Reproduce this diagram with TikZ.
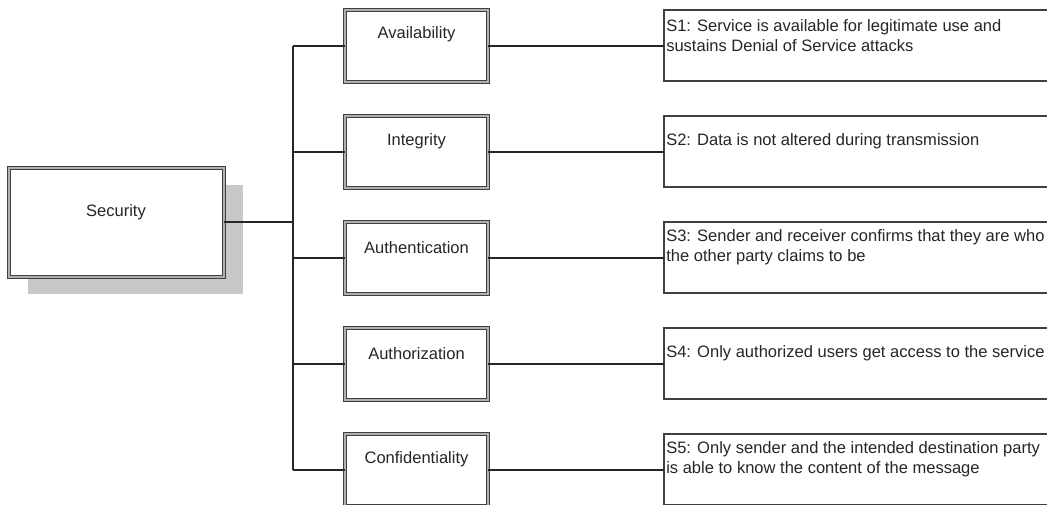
\documentclass[tikz,border=0pt]{standalone}
\usepackage{fontspec}
\setmainfont{Liberation Sans}
\usetikzlibrary{shadows}
\definecolor{edge}{HTML}{404040}
\definecolor{band}{HTML}{B0B0B0}
\definecolor{shade}{HTML}{C8C8C8}
\definecolor{ink}{HTML}{262626}
\begin{document}
\begin{tikzpicture}[x=0.75pt,y=-0.75pt,
  font=\fontsize{12.4pt}{15pt}\selectfont, text=ink,
  dblbox/.style={draw=edge, line width=0.8pt, double=band, double distance=1.9pt,
    fill=white, anchor=north west, inner sep=0pt, outer sep=0pt,
    minimum width=107.25pt, minimum height=54pt},
  rootbox/.style={dblbox, minimum width=161.25pt, minimum height=81.75pt,
    general shadow={fill=shade, draw=none, shadow xshift=14.25pt, shadow yshift=-12.75pt}},
  descbox/.style={draw=edge, line width=1.1pt, fill=white, anchor=north west,
    inner sep=0pt, outer sep=0pt, minimum width=297pt, minimum height=53.25pt},
  desctext/.style={anchor=west, align=left, inner sep=0pt},
  boxlabel/.style={anchor=center, inner sep=0pt},
  conn/.style={draw=black!85, line width=0.8pt}]
\useasboundingbox (0,0) rectangle (1047,504);
\clip (0,0) rectangle (1047,504);
\fill[white] (0,0) rectangle (1047,504);

% root
\node[rootbox] (sec) at (9,168) {};
\node[boxlabel] (secl) at (116,212) {Security};

% bus
\coordinate (bus) at (293,222);
\coordinate (bt) at (293,46);
\coordinate (bb) at (293,470);
\draw[conn, line width=1.7pt] (sec.east |- bus) -- (bus);
\draw[conn] (bt) -- (bb);

% middle boxes
\node[dblbox] (av) at (345,10) {};
\node[dblbox] (in) at (345,116) {};
\node[dblbox] (au) at (345,222) {};
\node[dblbox] (az) at (345,328) {};
\node[dblbox] (co) at (345,434) {};
\node[boxlabel] at ([yshift=-18pt]av.north) {Availability};
\node[boxlabel] at ([yshift=-19pt]in.north) {Integrity};
\node[boxlabel] at ([yshift=-19pt]au.north) {Authentication};
\node[boxlabel] at ([yshift=-19pt]az.north) {Authorization};
\node[boxlabel] at ([yshift=-19pt]co.north) {Confidentiality};

% description boxes
\node[descbox] (s1) at (664,10) {};
\node[descbox] (s2) at (664,116) {};
\node[descbox] (s3) at (664,222) {};
\node[descbox] (s4) at (664,328) {};
\node[descbox] (s5) at (664,434) {};
\node[desctext] at ([xshift=1.5pt,yshift=-19pt]s1.north west) {S1: Service is available for legitimate use and\\sustains Denial of Service attacks};
\node[desctext] at ([xshift=1.5pt,yshift=-19pt]s2.north west) {S2: Data is not altered during transmission};
\node[desctext] at ([xshift=1.5pt,yshift=-19pt]s3.north west) {S3: Sender and receiver confirms that they are who\\the other party claims to be};
\node[desctext] at ([xshift=1.5pt,yshift=-19pt]s4.north west) {S4: Only authorized users get access to the service};
\node[desctext] at ([xshift=1.5pt,yshift=-19pt]s5.north west) {S5: Only sender and the intended destination party\\is able to know the content of the message};

% connectors
\foreach \m/\s in {av/s1,in/s2,au/s3,az/s4,co/s5}{
  \draw[conn] (bus |- \m.west) -- (\m.west);
  \draw[conn] (\m.east) -- (\s.west |- \m.east);
}
\end{tikzpicture}
\end{document}
